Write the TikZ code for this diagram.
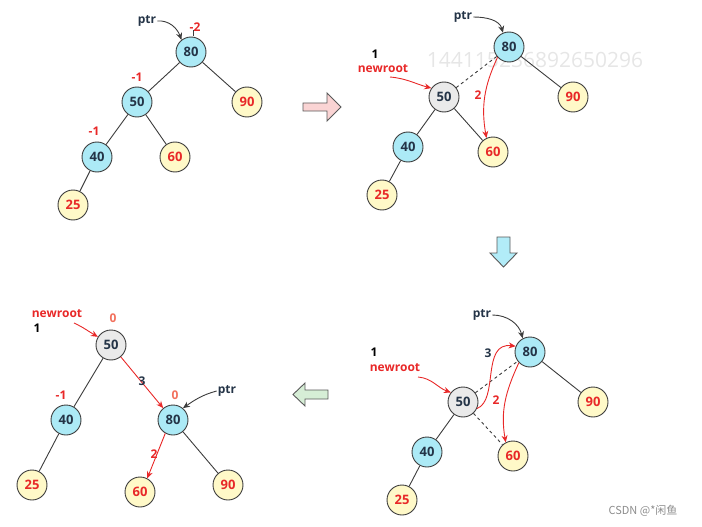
\documentclass[tikz,border=0pt]{standalone}
\usepackage{fontspec}
\setmainfont{Open Sans}
\newfontfamily\cjk{Noto Sans CJK SC}
\usetikzlibrary{arrows.meta}
\definecolor{nblue}{RGB}{172,234,246}
\definecolor{nyellow}{RGB}{255,249,200}
\definecolor{ngray}{RGB}{234,234,234}
\definecolor{ntext}{RGB}{36,52,71}
\definecolor{myred}{RGB}{232,40,40}
\definecolor{salmon}{RGB}{242,112,92}
\definecolor{edgec}{RGB}{60,60,60}
\definecolor{apink}{RGB}{250,212,212}
\definecolor{acyan}{RGB}{178,236,248}
\definecolor{agreen}{RGB}{214,238,214}
\definecolor{wm}{RGB}{230,230,230}
\tikzset{
  nd/.style={circle, minimum size=30pt, inner sep=0pt, draw=edgec, line width=0.9pt,
    font=\bfseries\fontsize{13}{13}\selectfont},
  bnode/.style={nd, fill=nblue, text=ntext},
  ynode/.style={nd, fill=nyellow, text=myred},
  gnode/.style={nd, fill=ngray, text=ntext},
  edge/.style={draw=edgec, line width=0.9pt},
  dedge/.style={draw=edgec, line width=0.9pt, dashed},
  redarr/.style={draw=myred, line width=0.9pt, -{Stealth[length=7pt,width=6pt]}},
  blkarr/.style={draw=edgec, line width=0.9pt, -{Stealth[length=7pt,width=6pt]}},
  lbl/.style={font=\bfseries\fontsize{12}{12}\selectfont, inner sep=1pt},
  rlbl/.style={lbl, text=myred},
  slbl/.style={lbl, text=salmon},
  klbl/.style={lbl, text=ntext},
  bigarr/.style={draw=black!65, line width=0.9pt, line join=miter}
}
\begin{document}
\begin{tikzpicture}[x=1pt,y=-1pt]
\useasboundingbox (0,0) rectangle (702,527);

% watermark
\node[text=wm, font=\fontsize{21}{21}\selectfont, inner sep=0pt] (wm1) at (535,60) {144115236892650296};

% ===== Tree A (top-left) =====
\node[bnode] (a80) at (191,52) {80};
\node[bnode] (a50) at (137,102) {50};
\node[ynode] (a90) at (247,102) {90};
\node[bnode] (a40) at (97,157) {40};
\node[ynode] (a60) at (175,157) {60};
\node[ynode] (a25) at (73,205) {25};
\draw[edge] (a80) -- (a50);
\draw[edge] (a80) -- (a90);
\draw[edge] (a50) -- (a40);
\draw[edge] (a50) -- (a60);
\draw[edge] (a40) -- (a25);
\node[klbl] (aptr) at (147,21) {ptr};
\draw[blkarr] (aptr.east) to[out=5,in=110] (a80.128);
\node[rlbl] (am2) at (195,27) {-2};
\coordinate (atk1) at (193,30);
\coordinate (atk2) at (193,36);
\draw[edgec, line width=0.7pt] (atk1) -- (atk2);
\node[rlbl] (am1a) at (137,77) {-1};
\node[rlbl] (am1b) at (94,131) {-1};

% ===== big arrow right (pink) =====
\draw[bigarr, fill=apink] (303,103) -- (327,103) -- (327,93) -- (341,107) -- (327,121) -- (327,111) -- (303,111) -- cycle;

% ===== Tree B (top-right) =====
\node[bnode] (b80) at (509,47) {80};
\node[gnode] (b50) at (444,97) {50};
\node[ynode] (b90) at (573,97) {90};
\node[bnode] (b40) at (408,147) {40};
\node[ynode] (b60) at (493,152) {60};
\node[ynode] (b25) at (382,195) {25};
\draw[dedge] (b50) -- (b80);
\draw[edge] (b80) -- (b90);
\draw[edge] (b50) -- (b40);
\draw[edge] (b50) -- (b60);
\draw[edge] (b40) -- (b25);
\node[klbl] (bptr) at (463,17) {ptr};
\draw[blkarr] (bptr.east) to[out=0,in=105] (b80.113);
\node[lbl, text=black] (b1) at (375,54) {1};
\node[rlbl] (bnr) at (383,69) {newroot};
\coordinate (bnrs) at (390,77);
\draw[redarr] (bnrs) to[out=-5,in=165] (b50.145);
\draw[redarr] (b80.222) to[out=245,in=100] (b60.115);
\node[rlbl] (b2) at (478,95) {2};

% ===== big arrow down (cyan) =====
\draw[bigarr, fill=acyan] (497,237) -- (510,237) -- (510,253) -- (517,253) -- (503.5,267) -- (490,253) -- (497,253) -- cycle;

% ===== Tree C (bottom-right) =====
\node[bnode] (c80) at (530,352) {80};
\node[gnode] (c50) at (463,402) {50};
\node[ynode] (c90) at (593,402) {90};
\node[bnode] (c40) at (427,452) {40};
\node[ynode] (c60) at (513,456) {60};
\node[ynode] (c25) at (402,500) {25};
\draw[dedge] (c50) -- (c80);
\draw[dedge] (c50) -- (c60);
\draw[edge] (c80) -- (c90);
\draw[edge] (c50) -- (c40);
\draw[edge] (c40) -- (c25);
\node[klbl] (cptr) at (482,315) {ptr};
\draw[blkarr] (cptr.east) to[out=0,in=105] (c80.118);
\node[lbl, text=black] (c1) at (374,352) {1};
\node[rlbl] (cnr) at (395,368) {newroot};
\coordinate (cnrs) at (418,377);
\draw[redarr] (cnrs) to[out=-5,in=160] (c50.142);
\draw[redarr] (c50.-25) .. controls (499,400) and (481,342) .. (c80.158);
\node[lbl, text=ntext] (c3) at (488,353) {3};
\draw[redarr] (c80.224) to[out=245,in=100] (c60.118);
\node[rlbl] (c2) at (496,400) {2};

% ===== big arrow left (green) =====
\draw[bigarr, fill=agreen] (328,390) -- (305,390) -- (305,383) -- (293,394.5) -- (305,406) -- (305,399) -- (328,399) -- cycle;

% ===== Tree D (bottom-left) =====
\node[gnode] (d50) at (111,345) {50};
\node[bnode] (d40) at (66,420) {40};
\node[bnode] (d80) at (173,420) {80};
\node[ynode] (d25) at (32,485) {25};
\node[ynode] (d60) at (140,492) {60};
\node[ynode] (d90) at (228,485) {90};
\draw[edge] (d50) -- (d40);
\draw[edge] (d40) -- (d25);
\draw[edge] (d80) -- (d90);
\draw[redarr] (d50) -- (d80);
\node[lbl, text=ntext] (d3) at (142,381) {3};
\draw[redarr] (d80.240) -- (d60.62);
\node[rlbl] (d2) at (154,454) {2};
\node[rlbl] (dnr) at (57,314) {newroot};
\node[lbl, text=black] (d1) at (37,328) {1};
\coordinate (dnrs) at (74,323);
\draw[redarr] (dnrs) to[out=-25,in=150] (d50.148);
\node[slbl] (d0a) at (113,318) {0};
\node[rlbl] (dm1) at (61,395) {-1};
\node[slbl] (d0b) at (175,395) {0};
\node[klbl] (dptr) at (227,391) {ptr};
\draw[blkarr] (dptr.west) to[out=195,in=35] (d80.50);

% CSDN watermark
\node[text=black!45, font=\cjk\fontsize{11}{11}\selectfont, inner sep=0pt] (csdn) at (643,511) {CSDN @*闲鱼};
\end{tikzpicture}
\end{document}
